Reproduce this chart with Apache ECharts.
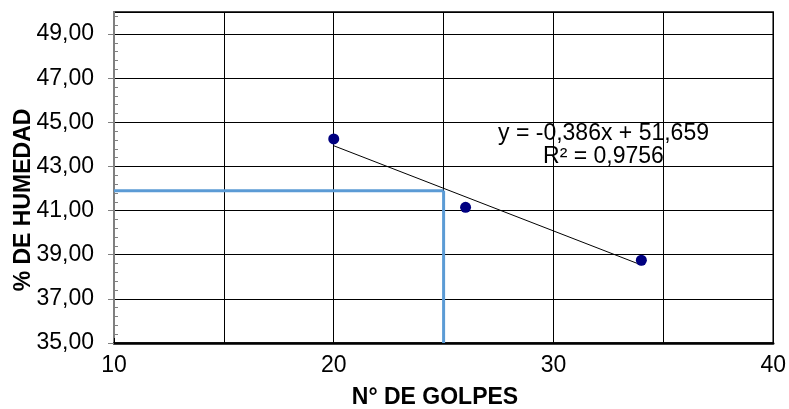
<!DOCTYPE html>
<html>
<head>
<meta charset="utf-8">
<script src="https://cdn.jsdelivr.net/npm/echarts@6/dist/echarts.min.js"></script>
<style>html,body{margin:0;padding:0;background:#fff}#c{width:789px;height:409px}</style>
</head>
<body>
<div id="c"></div>
<script>
const golpes = [20, 26, 34];
const humedad = [44.25, 41.15, 38.75];
const trendSlope = -0.386;
const trendIntercept = 51.659;
const trendRange = [20, 34];
const guideX = 25;
const guideY = 41.9;
const xRange = [10, 40];
const yRange = [35, 50];
const eqText = 'y = -0,386x + 51,659';
const r2Text = 'R² = 0,9756';
const xName = 'N° DE GOLPES';
const yName = '% DE HUMEDAD';

const FONT = '"Liberation Sans", Arial, sans-serif';
const pts = golpes.map((g, i) => [g, humedad[i]]);
const trend = trendRange.map(x => [x, trendIntercept + trendSlope * x]);
const hGuide = [[xRange[0], guideY], [guideX, guideY]];
const vGuide = [[guideX, yRange[0]], [guideX, guideY]];

const chart = echarts.init(document.getElementById('c'));
chart.setOption({
  animation: false,
  grid: { left: 114, right: 13, top: 12, bottom: 66, show: true, borderColor: '#000', borderWidth: 1.5 },
  xAxis: {
    type: 'value', min: xRange[0], max: xRange[1], interval: 5,
    axisLine: { show: true, onZero: false, lineStyle: { color: '#000', width: 2.5 } },
    axisTick: { show: true, inside: true, length: 5, lineStyle: { color: '#000' } },
    axisLabel: { color: '#000', fontFamily: FONT, fontSize: 23, margin: 11,
      formatter: v => (v % 10 === 0 ? String(v) : '') },
    splitLine: { show: true, lineStyle: { color: '#000', width: 1 } }
  },
  yAxis: [{
    type: 'value', min: yRange[0], max: yRange[1], interval: 2,
    axisLine: { show: true, onZero: false, lineStyle: { color: '#808080', width: 2 } },
    axisTick: { show: true, inside: false, length: 6, lineStyle: { color: '#808080' } },
    axisLabel: { color: '#000', fontFamily: FONT, fontSize: 23, margin: 20, showMaxLabel: false,
      formatter: v => v.toFixed(2).replace('.', ',') },
    splitLine: { show: true, lineStyle: { color: '#000', width: 1 } }
  }, {
    type: 'value', min: yRange[0], max: yRange[1], interval: 2, position: 'left',
    axisLine: { show: false },
    axisTick: { show: false, inside: true },
    minorTick: { show: true, splitNumber: 5, length: 4, lineStyle: { color: '#808080' } },
    axisLabel: { show: false },
    splitLine: { show: false }
  }],
  graphic: [
    { type: 'text', x: 603.5, y: 134, style: { text: eqText, font: '23px ' + FONT, fill: '#000', align: 'center', verticalAlign: 'middle' }, z: 10 },
    { type: 'text', x: 603.5, y: 157, style: { text: r2Text, font: '23px ' + FONT, fill: '#000', align: 'center', verticalAlign: 'middle' }, z: 10 },
    { type: 'text', x: 435, y: 398, style: { text: xName, font: 'bold 23px ' + FONT, fill: '#000', align: 'center', verticalAlign: 'middle' } },
    { type: 'text', x: 24, y: 200, rotation: Math.PI / 2, style: { text: yName, font: 'bold 23px ' + FONT, fill: '#000', align: 'center', verticalAlign: 'middle' } }
  ],
  series: [
    { type: 'line', data: hGuide, symbol: 'none', lineStyle: { color: '#5B9BD5', width: 3 }, z: 3 },
    { type: 'line', data: vGuide, symbol: 'none', lineStyle: { color: '#5B9BD5', width: 3 }, z: 3 },
    { type: 'line', data: trend, symbol: 'none', lineStyle: { color: '#000', width: 1 }, z: 4 },
    { type: 'scatter', data: pts, symbol: 'circle', symbolSize: 11, itemStyle: { color: '#000080', opacity: 1 }, z: 5 }
  ]
});
</script>
</body>
</html>
